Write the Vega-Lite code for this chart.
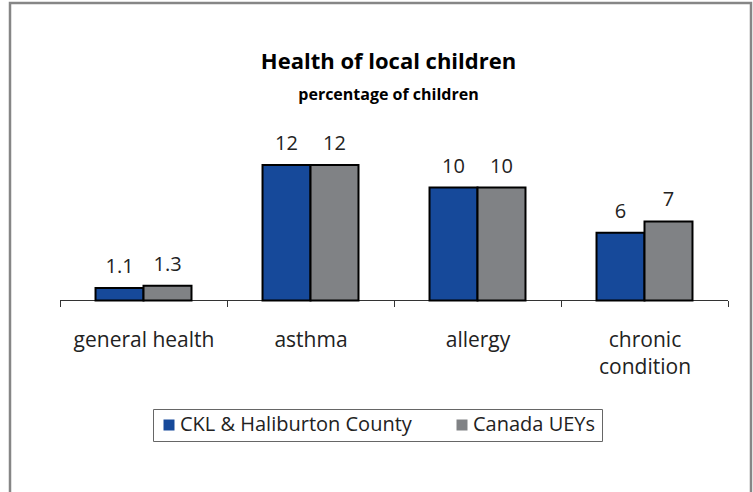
{
  "$schema": "https://vega.github.io/schema/vega-lite/v6.json",
  "width": 741,
  "height": 500,
  "autosize": {"type": "none"},
  "padding": {"left": 10, "top": 3, "right": 2, "bottom": 0},
  "background": "white",
  "config": {
    "view": {"stroke": "#868686", "strokeWidth": 2.5},
    "font": "Open Sans"
  },
  "title": {
    "text": "Health of local children",
    "subtitle": "percentage of children",
    "font": "Open Sans",
    "subtitleFont": "Open Sans",
    "fontSize": 22,
    "fontWeight": "bold",
    "subtitleFontSize": 16,
    "subtitleFontWeight": "bold",
    "color": "black",
    "subtitleColor": "black",
    "anchor": "middle",
    "offset": -101,
    "subtitlePadding": 13,
    "dx": 8
  },
  "data": {
    "values": [
      {"category": "general health", "series": "CKL & Haliburton County", "value": 1.1},
      {"category": "general health", "series": "Canada UEYs", "value": 1.3},
      {"category": "asthma", "series": "CKL & Haliburton County", "value": 12},
      {"category": "asthma", "series": "Canada UEYs", "value": 12},
      {"category": "allergy", "series": "CKL & Haliburton County", "value": 10},
      {"category": "allergy", "series": "Canada UEYs", "value": 10},
      {"category": "chronic condition", "series": "CKL & Haliburton County", "value": 6},
      {"category": "chronic condition", "series": "Canada UEYs", "value": 7}
    ]
  },
  "encoding": {
    "x": {
      "field": "category",
      "type": "nominal",
      "sort": ["general health", "asthma", "allergy", "chronic condition"],
      "scale": {"paddingInner": 0, "paddingOuter": 0.2186, "align": 0.685},
      "axis": {
        "title": null,
        "domain": false,
        "grid": false,
        "tickBand": "extent",
        "tickSize": 6,
        "tickColor": "#333333",
        "tickWidth": 1,
        "offset": -202.5,
        "labelAngle": 0,
        "labelFont": "Open Sans",
        "labelFontSize": 21,
        "labelColor": "#222222",
        "labelPadding": 23,
        "labelLineHeight": 27,
        "labelExpr": "datum.value == 'chronic condition' ? ['chronic', 'condition'] : datum.label"
      }
    },
    "y": {
      "field": "value",
      "type": "quantitative",
      "stack": null,
      "scale": {"domain": [-17.92, 26.33], "nice": false, "zero": false},
      "axis": null
    }
  },
  "layer": [
    {
      "mark": {"type": "bar", "fill": "transparent", "stroke": "#333333", "strokeWidth": 1, "width": {"band": 1}},
      "encoding": {"y": {"datum": 0, "type": "quantitative"}}
    },
    {
      "mark": {"type": "bar", "stroke": "black", "strokeWidth": 2},
      "encoding": {
        "xOffset": {
          "field": "series",
          "sort": ["CKL & Haliburton County", "Canada UEYs"],
          "scale": {"paddingInner": 0, "paddingOuter": 0.74}
        },
        "color": {
          "field": "series",
          "type": "nominal",
          "sort": ["CKL & Haliburton County", "Canada UEYs"],
          "scale": {"domain": ["CKL & Haliburton County", "Canada UEYs"], "range": ["#16499A", "#808285"]},
          "legend": {
            "title": null,
            "orient": "none",
            "legendX": 143,
            "legendY": 406,
            "direction": "horizontal",
            "strokeColor": "#666666",
            "fillColor": "white",
            "padding": 6,
            "symbolType": "square",
            "symbolSize": 121,
            "symbolStrokeWidth": 0,
            "symbolOpacity": 1,
            "labelFont": "Open Sans",
            "labelFontSize": 20,
            "labelColor": "#222222",
            "labelLimit": 400,
            "labelOffset": 1,
            "columnPadding": 40
          }
        }
      }
    },
    {
      "mark": {"type": "text", "fontSize": 20, "font": "Open Sans", "baseline": "alphabetic", "dy": -15, "color": "#222222"},
      "encoding": {
        "xOffset": {
          "field": "series",
          "sort": ["CKL & Haliburton County", "Canada UEYs"],
          "scale": {"paddingInner": 0, "paddingOuter": 0.74}
        },
        "text": {"field": "value", "type": "quantitative", "format": "~g"}
      }
    }
  ]
}
